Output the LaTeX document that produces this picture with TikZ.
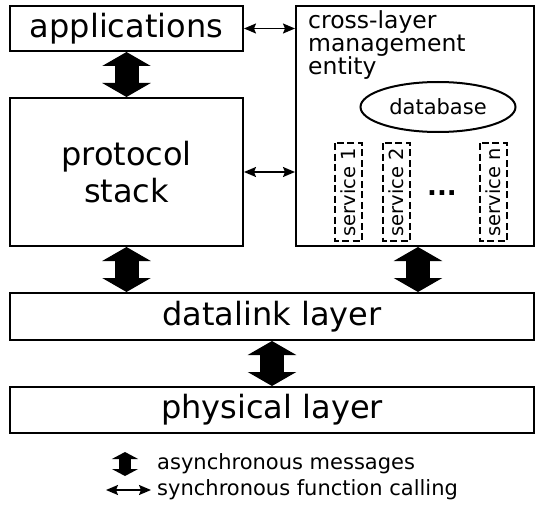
\documentclass[tikz,border=0pt]{standalone}
\usepackage{fontspec}
\setmainfont{DejaVu Sans}
\usetikzlibrary{arrows.meta,backgrounds}
\usetikzlibrary{shapes,shapes.geometric}
\pgfdeclarelayer{edgelayer}
\pgfdeclarelayer{nodelayer}
\pgfsetlayers{background,edgelayer,nodelayer,main}
\tikzstyle{none}=[inner sep=0mm]
\tikzstyle{stackbox}=[draw=black,line width=2pt,inner sep=0pt,align=center,font=\fontsize{32}{37}\selectfont]
\tikzstyle{servicebox}=[draw=black,dash pattern=on 7pt off 3.5pt,line width=1.6pt,rotate=90,minimum width=98pt,minimum height=27pt,inner sep=0pt,font=\fontsize{19.5}{19.5}\selectfont]
\tikzstyle{dbase}=[draw=black,line width=2pt,ellipse,minimum width=155pt,minimum height=50pt,inner sep=0pt,font=\fontsize{21}{21}\selectfont]
\tikzstyle{async}=[line width=24pt,{Triangle[length=14pt,width=48pt]}-{Triangle[length=14pt,width=48pt]}]
\tikzstyle{async small}=[line width=12pt,{Triangle[length=7pt,width=26pt]}-{Triangle[length=7pt,width=26pt]}]
\tikzstyle{sync}=[line width=1.6pt,{Stealth[length=12pt,width=10pt,inset=2pt]}-{Stealth[length=12pt,width=10pt,inset=2pt]}]
\tikzstyle{legend}=[inner sep=0pt,anchor=west,font=\fontsize{21}{21}\selectfont]

\begin{document}
\begin{tikzpicture}[x=1pt,y=-1pt]
	\useasboundingbox (0,0) rectangle (535,508);
	\begin{pgfonlayer}{nodelayer}
		\node [style=stackbox,minimum width=233pt,minimum height=45pt] (app) at (126.5, 28.5) {applications};
		\node [style=stackbox,minimum width=233pt,minimum height=148pt] (ps) at (126.5, 172) {protocol\\stack};
		\node [style=stackbox,minimum width=238pt,minimum height=240pt] (cle) at (415, 126) {};
		\node [style=stackbox,minimum width=524pt,minimum height=47pt] (dl) at (272, 316.5) {datalink layer};
		\node [style=stackbox,minimum width=524pt,minimum height=46pt] (phy) at (272, 410) {physical layer};
		\node [style=none,anchor=north west,align=left,font=\fontsize{23.5}{23}\selectfont] (cletext) at (308, 10) {cross-layer\\management\\entity};
		\node [style=dbase] (db) at (438, 107) {database};
		\node [style=servicebox] (s1) at (348.5, 192) {service 1};
		\node [style=servicebox] (s2) at (396.5, 192) {service 2};
		\node [style=servicebox] (sn) at (493.5, 192) {service n};
		\node [style=none,font=\fontsize{26}{26}\selectfont\bfseries] (dots) at (442, 193) {...};
		\coordinate (la1) at (125, 452);
		\coordinate (la2) at (125, 476);
		\coordinate (lb1) at (106, 490);
		\coordinate (lb2) at (151, 490);
		\node [style=legend] (lta) at (157, 464) {asynchronous messages};
		\node [style=legend] (ltb) at (157, 490) {synchronous function calling};
	\end{pgfonlayer}
	\begin{pgfonlayer}{edgelayer}
		\draw [style=async] (app.south) -- (ps.north);
		\draw [style=async] (ps.south) -- (ps.south |- dl.north);
		\draw [style=async] ([xshift=3pt]cle.south) -- ([xshift=3pt]cle.south |- dl.north);
		\draw [style=async] (dl.south) -- (phy.north);
		\draw [style=sync] (app.east) -- (app.east -| cle.west);
		\draw [style=sync] (ps.east) -- (ps.east -| cle.west);
		\draw [style=async small] (la1) -- (la2);
		\draw [style=sync] (lb1) -- (lb2);
	\end{pgfonlayer}
\end{tikzpicture}
\end{document}
